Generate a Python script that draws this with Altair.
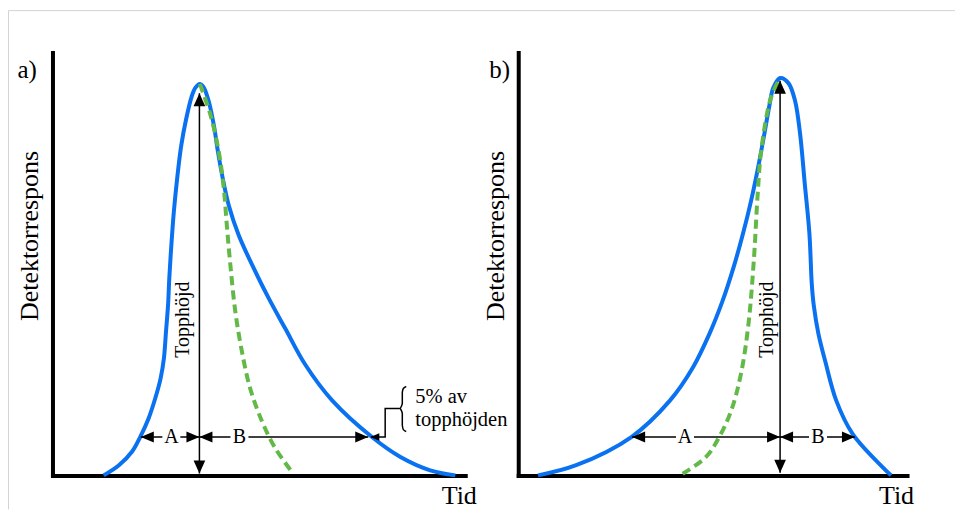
import altair as alt
import pandas as pd

FONT = "Liberation Serif, Times New Roman, serif"
BLUE = "#0a72f0"
GREEN = "#62b948"
INK = "black"
FRAME = "#d3d3d3"

# ---------- a) tailing peak (time 0-10, response in % of peak) ----------
a_time = [1.24, 1.61, 1.93, 2.13, 2.33, 2.49, 2.62, 2.70, 2.75, 2.80, 2.83, 2.88, 2.94,
          3.02, 3.12, 3.24, 3.37, 3.46, 3.57, 3.66, 3.79, 3.91, 4.01, 4.11, 4.27, 4.51,
          4.84, 5.24, 5.64, 6.13, 6.78, 7.74, 8.43, 9.15, 9.76]
a_resp = [0.0, 2.6, 6.1, 9.9, 14.6, 19.7, 24.8, 29.9, 36.7, 43.5, 50.3, 58.8, 67.3,
          75.8, 84.3, 91.1, 96.7, 99.0, 100.0, 99.2, 95.4, 89.4, 82.6, 76.7, 69.0, 61.4,
          53.7, 45.2, 37.5, 28.2, 19.1, 9.8, 4.7, 1.3, 0.0]
# symmetric (Gaussian) reference half
a_gauss_time = [3.57, 3.83, 4.03, 4.15, 4.23, 4.31, 4.43, 4.59, 4.79, 5.08, 5.40, 5.80]
a_gauss_resp = [100.0, 92.0, 82.6, 73.3, 63.1, 53.7, 41.8, 31.6, 22.2, 13.7, 6.9, 0.9]

# ---------- b) fronting peak ----------
b_time = [0.51, 1.49, 2.91, 3.90, 4.50, 4.92, 5.26, 5.54, 5.78, 5.99, 6.17, 6.33, 6.47,
          6.56, 6.735, 6.95, 7.12, 7.25, 7.37, 7.49, 7.55, 7.60, 7.72, 7.90, 8.18, 8.60,
          9.37, 9.59]
b_resp = [0.0, 2.6, 9.8, 19.1, 27.7, 36.2, 44.7, 53.2, 61.7, 70.2, 78.7, 87.2, 95.0,
          99.0, 101.5, 100.2, 95.7, 87.2, 74.5, 61.7, 48.9, 43.5, 36.2, 29.0, 19.1, 10.6,
          2.1, 0.0]
b_gauss_time = [4.23, 4.83, 5.17, 5.48, 5.73, 5.92, 6.06, 6.16, 6.25, 6.50, 6.735]
b_gauss_resp = [0.4, 4.7, 9.8, 16.6, 26.0, 38.5, 55.0, 72.0, 83.0, 96.5, 101.5]

# ---------- measurement marks ----------
measure_level = 9.8                      # height at which A and B are measured
a_peak_time, a_peak_top, a_floor = 3.56, 97.6, 0.5
b_peak_time, b_peak_top, b_floor = 6.735, 100.8, 0.7
a_span_A, a_span_B = (2.14, 3.56), (3.56, 7.65)
b_span_A, b_span_B = (2.93, 6.735), (6.735, 8.66)
a_label_time = {"A": 2.88, "B": 4.53}
b_label_time = {"A": 4.29, "B": 7.71}
height_label = "Topphöjd"
a_height_label_time, b_height_label_time, height_label_resp = 3.17, 6.40, 39.8
a_tag, b_tag = "a)", "b)"
a_tag_time, b_tag_time, tag_resp = -0.85, -0.745, 101.5

# callout "5% av topphöjden" in panel a
note_lines = ["5% av", "topphöjden"]
note_time = 8.79
note_resp = [18.4, 12.5]
brace_time = [8.57, 8.50, 8.475, 8.475, 8.45, 8.42, 8.45, 8.475, 8.475, 8.50, 8.57]
brace_resp = [22.7, 22.2, 21.2, 18.4, 17.6, 17.1, 16.6, 15.8, 12.8, 11.7, 11.2]
leader_time = [8.42, 8.06, 8.06, 7.72]
leader_resp = [17.1, 17.1, 9.8, 9.8]
leader_tip_time = 7.70

HEAD_PATHS = {
    "left": "M0,0L2,-0.85L2,0.85Z",
    "right": "M0,0L-2,-0.85L-2,0.85Z",
    "up": "M0,0L-0.9,2L0.9,2Z",
    "down": "M0,0L-0.9,-2L0.9,-2Z",
}
XS = alt.Scale(domain=[0, 10], nice=False, zero=False)
YS = alt.Scale(domain=[0, 108], nice=False, zero=False)


def arrow_heads(segments):
    rows = []
    for t1, r1, t2, r2 in segments:
        if r1 == r2:
            lo, hi = sorted([t1, t2])
            rows += [dict(t=lo, r=r1, d="left"), dict(t=hi, r=r1, d="right")]
        else:
            lo, hi = sorted([r1, r2])
            rows += [dict(t=t1, r=lo, d="down"), dict(t=t1, r=hi, d="up")]
    return pd.DataFrame(rows)


def callout(X, Y):
    """Brace, leader arrow and note text marking the measuring height."""
    brace = alt.Chart(pd.DataFrame({"t": brace_time, "r": brace_resp,
                                    "i": range(len(brace_time))})).mark_line(
        color=INK, strokeWidth=1.5, interpolate="monotone"
    ).encode(x=X(), y=Y(), order="i:Q")
    leader = alt.Chart(pd.DataFrame({"t": leader_time, "r": leader_resp,
                                     "i": range(len(leader_time))})).mark_line(
        color=INK, strokeWidth=1.5
    ).encode(x=X(), y=Y(), order="i:Q")
    tip = alt.Chart(pd.DataFrame({"t": [leader_tip_time], "r": [measure_level]})).mark_point(
        shape=HEAD_PATHS["left"], filled=True, color=INK, opacity=1, size=81, strokeWidth=0
    ).encode(x=X(), y=Y())
    note = alt.Chart(pd.DataFrame({"t": note_time, "r": note_resp, "txt": note_lines})).mark_text(
        font=FONT, fontSize=20.5, color=INK, align="left", baseline="alphabetic"
    ).encode(x=X(), y=Y(), text="txt:N")
    return [brace, leader, tip, note]


def border():
    """Top and left edge of the figure box."""
    one = pd.DataFrame({"k": [0]})
    top = alt.Chart(one).mark_rule(color=FRAME, strokeWidth=1).encode(
        x=alt.value(-44), x2=alt.value(903), y=alt.value(-42))
    left = alt.Chart(one).mark_rule(color=FRAME, strokeWidth=1).encode(
        x=alt.value(-44), y=alt.value(-42), y2=alt.value(457))
    return [top, left]


def panel(width, times, resps, g_times, g_resps, peak_t, peak_top, floor, span_A, span_B,
          label_t, hl_t, tag, tag_t, tid_x, extra=None):
    x_axis = alt.Axis(
        title="Tid", domain=True, domainColor=INK, domainWidth=4, domainCap="square",
        ticks=False, labels=False, grid=False, titleFont=FONT, titleFontSize=26,
        titleFontWeight="normal", titleColor=INK, titleX=tid_x, titleY=28,
        titleAlign="center", titleBaseline="alphabetic", titleAngle=0)
    y_axis = alt.Axis(
        title="Detektorrespons", domain=True, domainColor=INK, domainWidth=4,
        domainCap="square", ticks=False, labels=False, grid=False, titleFont=FONT,
        titleFontSize=26, titleFontWeight="normal", titleColor=INK, titleX=-22.5,
        titleY=183, titleAlign="center", titleBaseline="middle", titleAngle=270)

    def X(field="t"):
        return alt.X(f"{field}:Q", scale=XS, axis=x_axis)

    def Y(field="r"):
        return alt.Y(f"{field}:Q", scale=YS, axis=y_axis)

    curve = alt.Chart(pd.DataFrame({"t": times, "r": resps})).mark_line(
        color=BLUE, strokeWidth=4, interpolate="catmull-rom"
    ).encode(x=X(), y=Y())

    gauss = alt.Chart(pd.DataFrame({"t": g_times, "r": g_resps})).mark_line(
        color=GREEN, strokeWidth=4, strokeDash=[9, 5], interpolate="catmull-rom"
    ).encode(x=X(), y=Y())

    segments = [
        (peak_t, floor, peak_t, peak_top),
        (span_A[0], measure_level, span_A[1], measure_level),
        (span_B[0], measure_level, span_B[1], measure_level),
    ]
    seg_df = pd.DataFrame(segments, columns=["t", "r", "t2", "r2"])
    rules = alt.Chart(seg_df).mark_rule(color=INK, strokeWidth=1.5).encode(
        x=X(), y=Y(), x2="t2:Q", y2="r2:Q")

    heads = alt.Chart(arrow_heads(segments)).mark_point(
        filled=True, color=INK, opacity=1, size=169, strokeWidth=0
    ).encode(
        x=X(), y=Y(),
        shape=alt.Shape("d:N", scale=alt.Scale(domain=list(HEAD_PATHS),
                                               range=list(HEAD_PATHS.values())),
                        legend=None))

    lab_df = pd.DataFrame({"t": list(label_t.values()), "r": measure_level,
                           "txt": list(label_t.keys())})
    lab_bg = alt.Chart(lab_df).mark_point(
        shape="M-1,-0.8L1,-0.8L1,0.8L-1,0.8Z", filled=True, color="white",
        opacity=1, size=324, strokeWidth=0
    ).encode(x=X(), y=Y())
    labs = alt.Chart(lab_df).mark_text(
        font=FONT, fontSize=20, color=INK, align="center", baseline="middle"
    ).encode(x=X(), y=Y(), text="txt:N")

    hl = alt.Chart(pd.DataFrame({"t": [hl_t], "r": [height_label_resp],
                                 "txt": [height_label]})).mark_text(
        font=FONT, fontSize=20, color=INK, align="center", baseline="middle", angle=270
    ).encode(x=X(), y=Y(), text="txt:N")

    tag_mark = alt.Chart(pd.DataFrame({"t": [tag_t], "r": [tag_resp], "txt": [tag]})).mark_text(
        font=FONT, fontSize=25, color=INK, align="left", baseline="alphabetic"
    ).encode(x=X(), y=Y(), text="txt:N")

    layers = [curve, gauss, rules, heads, lab_bg, labs, hl, tag_mark]
    if extra is not None:
        layers += extra(X, Y)
    return alt.layer(*layers).properties(width=width, height=423)


left_panel = panel(413, a_time, a_resp, a_gauss_time, a_gauss_resp, a_peak_time, a_peak_top,
                   a_floor, a_span_A, a_span_B, a_label_time, a_height_label_time,
                   a_tag, a_tag_time, 406.5,
                   extra=lambda X, Y: border() + callout(X, Y))
right_panel = panel(389, b_time, b_resp, b_gauss_time, b_gauss_resp, b_peak_time, b_peak_top,
                    b_floor, b_span_A, b_span_B, b_label_time, b_height_label_time,
                    b_tag, b_tag_time, 378)

chart = alt.hconcat(left_panel, right_panel, spacing=53, bounds="flush").properties(
    padding={"left": 7.5, "top": 9.5, "right": 0, "bottom": 0},
    background="white",
).configure_view(strokeWidth=0)

chart.save("out.html", embed_options={"renderer": "svg", "actions": False})
